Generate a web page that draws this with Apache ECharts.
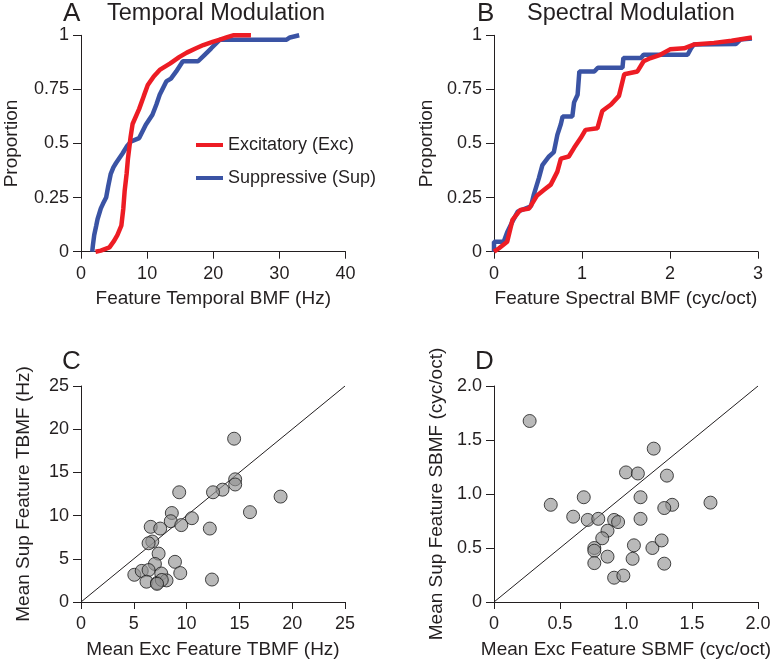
<!DOCTYPE html>
<html>
<head>
<meta charset="utf-8">
<script src="https://cdn.jsdelivr.net/npm/echarts@6/dist/echarts.min.js"></script>
<style>
html, body { margin: 0; padding: 0; background: #fff; }
#chart { width: 771px; height: 661px; }
</style>
</head>
<body>
<div id="chart"></div>
<script>
// A: cumulative proportion vs temporal BMF (Hz)
var tempExc = [[2.2,0],[3.0,0.005],[4.3,0.02],[5.0,0.05],[5.5,0.077],[6.1,0.12],[6.4,0.2],[6.6,0.28],[6.9,0.36],[7.1,0.43],[7.5,0.53],[7.8,0.59],[8.8,0.66],[9.5,0.72],[10.1,0.77],[11,0.81],[11.9,0.84],[13.5,0.87],[14.9,0.9],[16,0.92],[17.4,0.94],[18.5,0.955],[19.9,0.97],[21,0.98],[22,0.99],[23,1.0],[25.7,1.0]];
var tempSup = [[1.7,0],[1.8,0.03],[2.0,0.077],[2.3,0.12],[2.5,0.15],[3.0,0.2],[3.3,0.22],[3.8,0.25],[4.1,0.3],[4.5,0.36],[4.9,0.39],[5.3,0.41],[6.3,0.455],[7.0,0.49],[7.6,0.51],[8.8,0.525],[9.8,0.587],[10.8,0.633],[11.4,0.68],[11.9,0.725],[12.9,0.787],[13.6,0.8],[14.4,0.833],[15.4,0.88],[17.7,0.88],[18.7,0.91],[19.7,0.94],[21,0.98],[31.1,0.98],[31.6,0.99],[33,1.0]];

// B: cumulative proportion vs spectral BMF (cyc/oct)
var specExc = [[0,0],[0.057,0.016],[0.15,0.046],[0.21,0.147],[0.3,0.193],[0.4,0.2],[0.49,0.26],[0.57,0.286],[0.645,0.31],[0.72,0.37],[0.76,0.43],[0.85,0.44],[0.91,0.48],[0.985,0.525],[1.04,0.563],[1.175,0.57],[1.23,0.65],[1.33,0.68],[1.42,0.72],[1.48,0.82],[1.63,0.833],[1.7,0.88],[1.78,0.895],[1.89,0.91],[2.0,0.935],[2.16,0.94],[2.27,0.957],[2.5,0.965],[2.7,0.975],[2.93,0.99]];
var specSup = [[0,0],[0,0.046],[0.11,0.046],[0.15,0.09],[0.21,0.14],[0.27,0.185],[0.42,0.21],[0.45,0.26],[0.51,0.34],[0.55,0.4],[0.625,0.44],[0.68,0.46],[0.72,0.54],[0.76,0.59],[0.78,0.625],[0.89,0.625],[0.91,0.69],[0.95,0.725],[0.97,0.833],[1.14,0.833],[1.18,0.85],[1.46,0.85],[1.47,0.895],[1.67,0.895],[1.7,0.91],[2.2,0.91],[2.24,0.94],[2.27,0.957],[2.75,0.96],[2.8,0.98],[2.93,0.985]];

// C: mean exc vs mean sup feature TBMF (Hz)
var tbmfPairs = [[14.5,18.9],[14.6,14.2],[14.6,13.6],[13.4,13.0],[12.5,12.7],[9.3,12.7],[18.9,12.2],[16.0,10.4],[8.6,10.3],[10.5,9.7],[8.5,9.35],[9.5,8.9],[6.6,8.7],[7.5,8.5],[12.2,8.5],[6.75,7.0],[6.4,6.8],[7.35,5.6],[7.0,4.4],[8.9,4.65],[9.4,3.35],[12.4,2.6],[5.05,3.15],[5.75,3.6],[6.4,3.7],[6.2,2.35],[7.6,3.3],[7.2,2.2],[8.1,2.5],[7.65,2.55],[7.2,2.1]];

// D: mean exc vs mean sup feature SBMF (cyc/oct)
var sbmfPairs = [[0.27,1.676],[1.21,1.42],[1.0,1.2],[1.09,1.19],[1.31,1.17],[0.43,0.9],[0.68,0.97],[1.11,0.97],[1.64,0.92],[1.35,0.9],[1.29,0.87],[0.6,0.79],[0.71,0.76],[0.79,0.77],[0.91,0.76],[0.94,0.74],[1.11,0.77],[0.86,0.66],[0.82,0.59],[0.76,0.5],[0.76,0.475],[1.06,0.525],[1.2,0.5],[1.27,0.57],[0.86,0.42],[1.05,0.4],[0.76,0.36],[1.29,0.355],[0.91,0.225],[0.98,0.245]];

var unityC = [[0,0],[25,25]];
var unityD = [[0,0],[2,2]];

var ink = '#231f20';
var red = '#ed1c24';
var blue = '#3a53a4';
var font = 'Liberation Sans, Arial, sans-serif';

function oneDec(v) { return v === 0 ? '0' : v.toFixed(1); }

function xAx(g, min, max, step, name, fmt) {
  return {
    type: 'value', gridIndex: g, min: min, max: max, interval: step,
    name: name, nameLocation: 'middle', nameGap: 38,
    nameTextStyle: { fontSize: 19, color: ink, fontFamily: font },
    axisLine: { show: true, onZero: false, lineStyle: { color: ink, width: 1 } },
    axisTick: { show: true, length: 7, lineStyle: { color: ink, width: 1 } },
    axisLabel: { fontSize: 18, color: ink, fontFamily: font, margin: 13, formatter: fmt },
    splitLine: { show: false }
  };
}
function yAx(g, min, max, step, name, gap, fmt) {
  return {
    type: 'value', gridIndex: g, min: min, max: max, interval: step,
    name: name, nameLocation: 'middle', nameGap: gap,
    nameTextStyle: { fontSize: 19, color: ink, fontFamily: font },
    axisLine: { show: true, onZero: false, lineStyle: { color: ink, width: 1 } },
    axisTick: { show: true, length: 8, lineStyle: { color: ink, width: 1 } },
    axisLabel: { fontSize: 18, color: ink, fontFamily: font, margin: 12, formatter: fmt },
    splitLine: { show: false }
  };
}
function curve(name, g, data, color) {
  return {
    name: name, type: 'line', xAxisIndex: g, yAxisIndex: g, data: data,
    showSymbol: false, symbol: 'none', itemStyle: { color: color },
    lineStyle: { color: color, width: 4.5 }
  };
}
function dots(g, data) {
  return {
    type: 'scatter', xAxisIndex: g, yAxisIndex: g, data: data, symbolSize: 13, z: 3,
    itemStyle: { color: 'rgba(146,146,146,0.8)', borderColor: '#1a1a1a', borderWidth: 1 }
  };
}
function unity(g, data) {
  return {
    type: 'line', xAxisIndex: g, yAxisIndex: g, data: data, symbol: 'none', z: 1,
    lineStyle: { color: ink, width: 1 }
  };
}
function label(text, left, top, size) {
  return { text: text, left: left, top: top, padding: 0,
    textStyle: { fontSize: size, fontWeight: 'normal', color: ink, fontFamily: font, lineHeight: size } };
}

var chart = echarts.init(document.getElementById('chart'), null, { renderer: 'canvas' });
chart.setOption({
  animation: false,
  backgroundColor: '#fff',
  title: [
    label('A', 63, 1, 26), label('Temporal Modulation', 107, 2, 23.5),
    label('B', 477, 1, 26), label('Spectral Modulation', 527, 2, 23.5),
    label('C', 62, 349, 26), label('D', 475, 349, 26)
  ],
  legend: {
    data: ['Excitatory (Exc)', 'Suppressive (Sup)'],
    orient: 'vertical', left: 191, top: 130, icon: 'rect',
    itemWidth: 27, itemHeight: 4, itemGap: 13,
    textStyle: { fontSize: 18, color: ink, fontFamily: font, lineHeight: 20 }
  },
  grid: [
    { left: 81, top: 35.3, width: 264.5, height: 216.4, outerBoundsMode: 'none' },
    { left: 494, top: 35.3, width: 264, height: 216.4, outerBoundsMode: 'none' },
    { left: 81, top: 386, width: 264, height: 216, outerBoundsMode: 'none' },
    { left: 494, top: 386, width: 264, height: 216, outerBoundsMode: 'none' }
  ],
  xAxis: [
    xAx(0, 0, 40, 10, 'Feature Temporal BMF (Hz)'),
    xAx(1, 0, 3, 1, 'Feature Spectral BMF (cyc/oct)'),
    xAx(2, 0, 25, 5, 'Mean Exc Feature TBMF (Hz)'),
    xAx(3, 0, 2, 0.5, 'Mean Exc Feature SBMF (cyc/oct)', oneDec)
  ],
  yAxis: [
    yAx(0, 0, 1, 0.25, 'Proportion', 60),
    yAx(1, 0, 1, 0.25, 'Proportion', 58),
    yAx(2, 0, 25, 5, 'Mean Sup Feature TBMF (Hz)', 48),
    yAx(3, 0, 2, 0.5, 'Mean Sup Feature SBMF (cyc/oct)', 48, oneDec)
  ],
  series: [
    curve('Suppressive (Sup)', 0, tempSup, blue),
    curve('Excitatory (Exc)', 0, tempExc, red),
    curve('Suppressive (Sup)', 1, specSup, blue),
    curve('Excitatory (Exc)', 1, specExc, red),
    unity(2, unityC),
    dots(2, tbmfPairs),
    unity(3, unityD),
    dots(3, sbmfPairs)
  ]
});
</script>
</body>
</html>
